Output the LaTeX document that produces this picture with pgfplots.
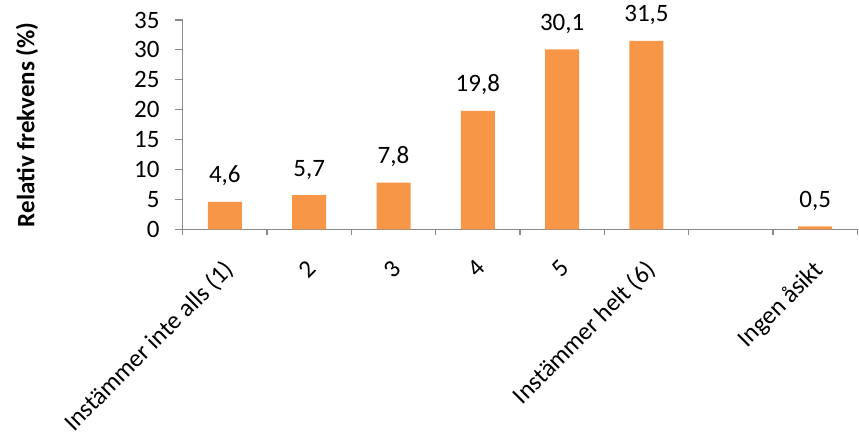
\documentclass[border=0pt]{standalone}
\usepackage{pgfplots}
\pgfplotsset{compat=1.18}
\usepackage{fontspec}
\setmainfont{Carlito}
\definecolor{barorange}{HTML}{F79646}
\definecolor{axisgray}{HTML}{898989}
\begin{document}
\begin{tikzpicture}[font=\fontsize{25}{30}\selectfont]
\useasboundingbox (0,0) rectangle (859pt,433pt);
\begin{axis}[
  at={(182.7pt,203.7pt)}, anchor=south west,
  scale only axis, width=674.6pt, height=209.3pt,
  xmin=0, xmax=8, ymin=0, ymax=35,
  axis x line=bottom, axis y line=left,
  axis line style={-, draw=axisgray, line width=1.2pt},
  ybar, bar width=34pt, bar shift=0pt,
  xtick={0.5,1.5,2.5,3.5,4.5,5.5,7.5},
  xticklabels={Instämmer inte alls (1),2,3,4,5,Instämmer helt (6),Ingen åsikt},
  minor xtick={0,1,...,8},
  major x tick style={draw=none},
  ytick={0,5,...,35},
  tick align=outside,
  major tick length=8pt, minor tick length=6pt,
  every tick/.style={draw=axisgray, line width=1.2pt},
  xticklabel style={xshift=-3pt, yshift=-21pt, rotate=45, anchor=north east, inner sep=0pt},
  yticklabel style={anchor=east, inner sep=0pt, xshift=-15pt},
  /pgf/number format/assume math mode=true,
  ylabel={\textbf{Relativ frekvens (\%)}},
  ylabel style={at={(axis description cs:-0.2308,0.5)}, anchor=center, rotate=0},
  nodes near coords={\pgfmathprintnumber[use comma, fixed, fixed zerofill, precision=1, assume math mode=true]{\pgfplotspointmeta}},
  every node near coord/.append style={anchor=base, yshift=19pt, black},
  clip=false,
]
\addplot[fill=barorange, draw=none] coordinates {
  (0.5,4.6) (1.5,5.7) (2.5,7.8) (3.5,19.8) (4.5,30.1) (5.5,31.5) (7.5,0.5)
};
\end{axis}
\end{tikzpicture}
\end{document}
